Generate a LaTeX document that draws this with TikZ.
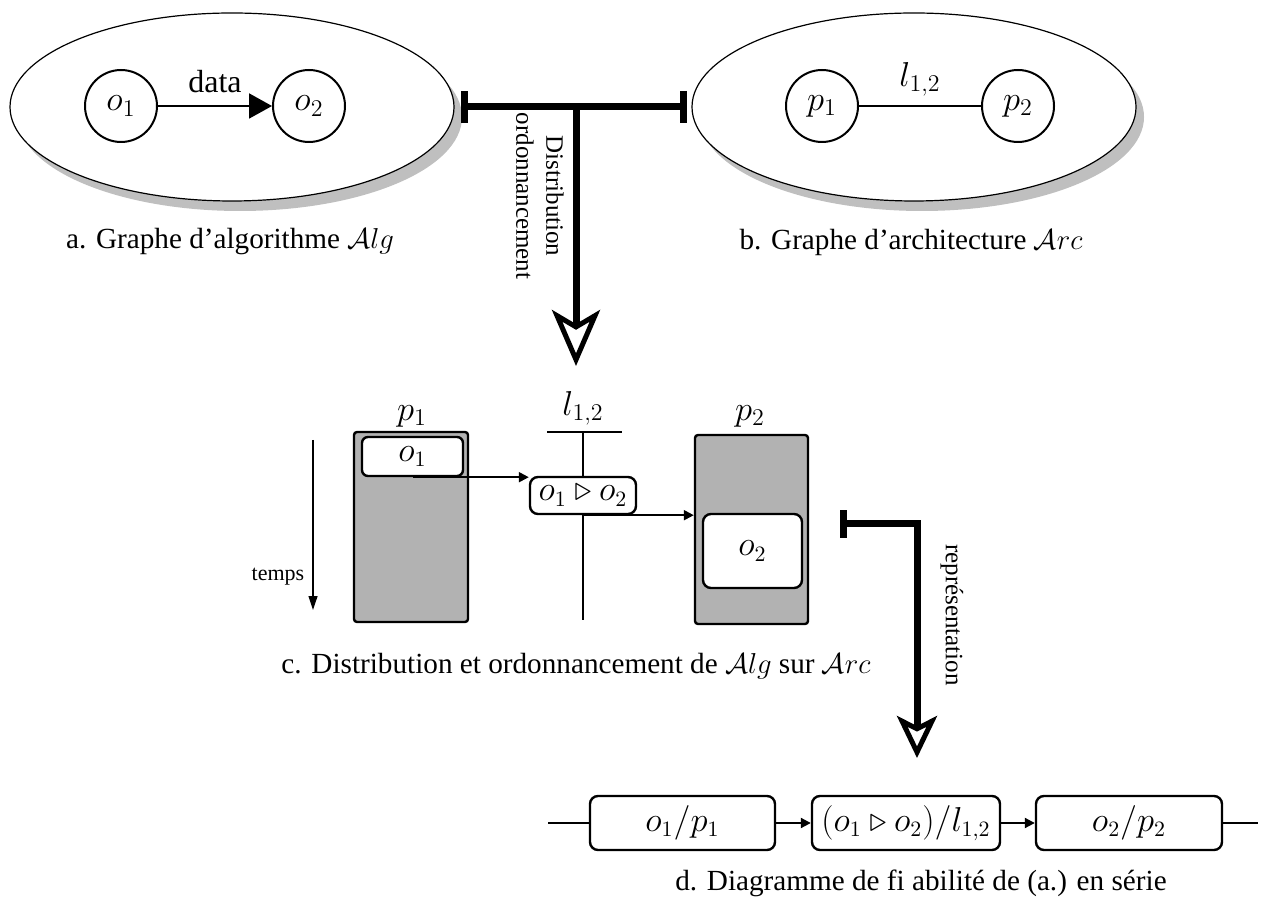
\documentclass[tikz,border=0pt]{standalone}
\usepackage[no-math]{fontspec}
\setmainfont{Liberation Serif}
\usetikzlibrary{arrows.meta,shapes.geometric,shadows}
\tikzset{
  graphell/.style={ellipse, draw, line width=0.6pt, fill=white, inner sep=0pt, outer sep=0pt,
    minimum width=222pt, minimum height=94pt,
    drop shadow={shadow xshift=4pt, shadow yshift=-5pt, fill=black!25, opacity=1}},
  vertex/.style={circle, draw, line width=1pt, minimum size=36pt, inner sep=0pt, font=\fontsize{17}{19}\selectfont},
  lbl/.style={font=\fontsize{16.5}{18}\selectfont},
  captext/.style={font=\fontsize{14.6}{17}\selectfont},
  proc/.style={draw, line width=1.2pt, fill=black!30, rounded corners=1.5pt, inner sep=0pt},
  opbox/.style={draw, line width=1.2pt, fill=white, rounded corners=4pt, inner sep=0pt, font=\fontsize{16}{18}\selectfont},
  bigconn/.style={line width=3.5pt},
  thinarrow/.style={line width=1pt, -{Triangle[length=5pt,width=5pt]}},
}
\begin{document}
\begin{tikzpicture}[x=0.5pt,y=-0.5pt]
\useasboundingbox (0,0) rectangle (1262,913);
% ellipses
\node[graphell] (ea) at (232,107) {};
\node[graphell] (eb) at (914,107) {};
% algorithm graph
\node[vertex] (o1) at (121,106) {$o_1$};
\node[vertex] (o2) at (309,106) {$o_2$};
\draw[line width=1pt, -{Triangle[length=11.5pt,width=12.5pt]}] (o1) -- (o2)
  node[midway, above=3pt, font=\fontsize{16}{18}\selectfont] {data};
% architecture graph
\node[vertex] (p1) at (822,106) {$p_1$};
\node[vertex] (p2) at (1018,106) {$p_2$};
\draw[line width=1pt] (p1) -- (p2) node[midway, above=1pt, lbl] {$l_{1,2}$};
% captions a and b
\node[captext] (capa) at (230,242) {a. Graphe d'algorithme $\mathcal{A}lg$};
\node[captext] (capb) at (911,242) {b. Graphe d'architecture $\mathcal{A}rc$};
% T connector
\coordinate (ta) at (461,107);
\coordinate (tb) at (687,107);
\coordinate (tm) at (576,107);
\coordinate (tt) at (576,366);
\draw[bigconn, {Bar[width=16pt]}-{Bar[width=16pt]}] (ta) -- (tb);
\draw[bigconn, -{Stealth[open, length=28pt, width=24pt, inset=7pt, line width=2.5pt]}] (tm) -- (tt);
\node[rotate=-90, align=center, font=\fontsize{12.5}{15}\selectfont] (dlab) at (540,196) {Distribution\\ordonnancement};
% schedule
\node[proc, minimum width=57pt, minimum height=95pt] (P1) at (411,527) {};
\node[proc, minimum width=56.5pt, minimum height=94.5pt] (P2) at (751.5,529.5) {};
\node[opbox, rounded corners=3pt, minimum width=50.5pt, minimum height=19.5pt] (b1) at (412.5,456.5) {$o_1$};
\node[opbox, minimum width=49.5pt, minimum height=37pt] (b2) at (752.5,551) {$o_2$};
\node[lbl] (lp1) at (412,416) {$p_1$};
\node[lbl] (lp2) at (750,416) {$p_2$};
\node[lbl] (ll) at (583,408) {$l_{1,2}$};
\coordinate (lbarl) at (547,432);
\coordinate (lbarr) at (622,432);
\coordinate (ltop) at (583,432);
\coordinate (lbot) at (583,620);
\draw[line width=1pt] (lbarl) -- (lbarr);
\draw[line width=1pt] (ltop) -- (lbot);
\node[opbox, minimum width=53pt, minimum height=18.5pt] (bc) at (583,495.5) {$o_1 \triangleright o_2$};
\draw[thinarrow] (b1.south) -- (bc.west |- b1.south);
\draw[thinarrow] (bc.south) -- (P2.west |- bc.south);
% time arrow
\coordinate (tmtop) at (313,440);
\coordinate (tmbot) at (313,610);
\draw[line width=0.6pt, -{Triangle[length=7pt,width=4.5pt]}] (tmtop) -- (tmbot);
\node[font=\fontsize{11}{13}\selectfont] (temps) at (278,577) {temps};
\node[captext] (capc) at (576,666) {c. Distribution et ordonnancement de $\mathcal{A}lg$ sur $\mathcal{A}rc$};
% representation connector
\coordinate (rs) at (840,524);
\coordinate (rt) at (917,758);
\draw[bigconn, line join=miter, {Bar[width=14pt]}-{Stealth[open, length=21pt, width=20pt, inset=5pt, line width=2.5pt]}] (rs) -| (rt);
\node[rotate=-90, font=\fontsize{12.5}{15}\selectfont] (rlab) at (952,615) {représentation};
% reliability diagram
\coordinate (din) at (548,823);
\coordinate (dout) at (1258,823);
\node[opbox, minimum width=92.5pt, minimum height=27pt] (r1) at (682.5,823) {$o_1/p_1$};
\node[opbox, minimum width=94pt, minimum height=27pt] (r2) at (906,823) {$(o_1 \triangleright o_2)/l_{1,2}$};
\node[opbox, minimum width=93pt, minimum height=27pt] (r3) at (1129,823) {$o_2/p_2$};
\draw[line width=1pt] (din) -- (r1);
\draw[thinarrow] (r1) -- (r2);
\draw[thinarrow] (r2) -- (r3);
\draw[line width=1pt] (r3) -- (dout);
\node[captext] (capd) at (921,883) {d. Diagramme de fi abilité de (a.) en série};
\end{tikzpicture}
\end{document}
